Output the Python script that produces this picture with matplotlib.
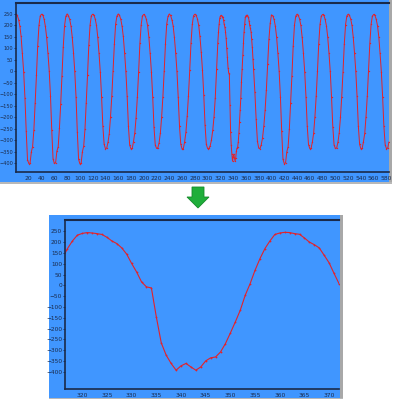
import numpy as np
import matplotlib
matplotlib.use("Agg")
import matplotlib.pyplot as plt
from matplotlib.patches import Rectangle, Polygon

# ---- data ----
# top chart, x = 0..314 step 2
before_y = [
    250, 244, 226, 198, 152, 78, -2, -115, -262, -385, -402, -400, -352, -328, -255, -138, -18, 112, 202, 242,
    249, 245, 228, 196, 148, 80, 2, -108, -258, -382, -401, -399, -348, -330, -248, -142, -22, 108, 198, 240,
    250, 243, 227, 199, 151, 82, 0, -112, -265, -384, -403, -400, -350, -326, -252, -136, -16, 114, 203, 243,
    249, 244, 229, 201, 149, 78, -4, -112, -240, -318, -337, -335, -310, -272, -198, -108, 2, 118, 206, 241,
    250, 245, 227, 198, 152, 81, 1, -108, -238, -322, -338, -336, -306, -268, -202, -112, -2, 122, 204, 242,
    248, 243, 228, 200, 150, 79, -2, -110, -242, -320, -336, -334, -312, -270, -200, -110, 0, 120, 207, 240,
    250, 244, 226, 199, 148, 80, 0, -114, -239, -319, -338, -337, -308, -266, -196, -106, 4, 124, 205, 243,
    249, 245, 229, 201, 152, 84, 4, -104, -236, -318, -337, -336, -325, -300, -258, -200, -115, 8,
]
# zoomed section, x = 316..372 step 1 (shown in both charts)
zoom_y = [
    125, 170, 205, 232, 240, 244, 242, 239, 235, 222, 205, 193, 173, 144, 101, 62, 16, -7, -12, -146,
    -266, -323, -361, -392, -372, -361, -377, -392, -377, -349, -335, -331, -308, -269, -220, -169, -115,
    -46, 8, 70, 124, 170, 205, 235, 242, 245, 244, 239, 236, 219, 200, 188, 173, 139, 104, 55, 8,
]
# top chart, x = 374..584 step 2
after_y = [
    -90, -210, -305, -335, -337, -320, -290, -240, -170, -80, 30, 140, 210,
    246, 243, 227, 198, 150, 80, 0, -112, -262, -383, -402, -400, -351, -329, -250, -139, -19, 111, 201, 241,
    249, 244, 228, 200, 150, 79, -1, -110, -240, -320, -337, -335, -309, -270, -199, -109, 1, 121, 205, 241,
    248, 244, 227, 199, 151, 81, 0, -111, -241, -321, -336, -335, -310, -269, -201, -110, -1, 119, 204, 242,
    249, 245, 228, 201, 149, 80, 1, -109, -239, -319, -338, -336, -307, -271, -198, -108, 3, 122, 206, 241,
    248, 244, 227, 199, 151, 79, -1, -111, -240, -320, -337, -335, -308,
]
before_x = np.arange(0, 315, 2)
zoom_x = np.arange(316, 373)
after_x = np.arange(374, 585, 2)

top_xticks = list(range(20, 581, 20))
zoom_xticks = list(range(320, 371, 5))
yticks = list(range(-400, 251, 50))

W, H = 400, 399
BLUE = '#4096ff'
RED = '#e3222a'
DARK = '#1a2a4a'


def frac(x0, y0, x1, y1):
    # pixel box (top-left origin) -> figure fraction rect
    return [x0 / W, 1 - y1 / H, (x1 - x0) / W, (y1 - y0) / H]


fig = plt.figure(figsize=(W / 100, H / 100), dpi=100)
fig.patch.set_facecolor('white')

# panel backgrounds and borders
for (x0, y0, x1, y1) in [(0, 0, 389, 182), (49, 215, 340, 398)]:
    r = frac(x0, y0, x1, y1)
    fig.add_artist(Rectangle((r[0], r[1]), r[2], r[3], transform=fig.transFigure,
                             facecolor=BLUE, edgecolor='none', zorder=0))
    r = frac(x1, y0, x1 + 3, y1 + 2)
    fig.add_artist(Rectangle((r[0], r[1]), r[2], r[3], transform=fig.transFigure,
                             facecolor='#a8a8a8', edgecolor='none', zorder=0))
    r = frac(x0, y1, x1 + 3, y1 + 2)
    fig.add_artist(Rectangle((r[0], r[1]), r[2], r[3], transform=fig.transFigure,
                             facecolor='#b8b8b8', edgecolor='none', zorder=0))

# green arrow
cx = 198
pts = [(cx - 6, 187), (cx + 6, 187), (cx + 6, 197), (cx + 11, 197), (cx, 208),
       (cx - 11, 197), (cx - 6, 197)]
pts = [(x / W, 1 - y / H) for x, y in pts]
fig.add_artist(Polygon(pts, closed=True, transform=fig.transFigure,
                       facecolor='#1fae3a', edgecolor='#158a2a', linewidth=0.6))


def style(ax, xticks, ylim, xlim, ysize):
    ax.set_facecolor(BLUE)
    ax.set_xlim(*xlim)
    ax.set_ylim(*ylim)
    ax.set_xticks(xticks)
    ax.set_yticks(yticks)
    ax.tick_params(axis='y', labelsize=ysize, length=1.5, width=0.6, pad=0.5,
                   colors=DARK, direction='out')
    ax.tick_params(axis='x', labelsize=4.3, length=0, pad=3, colors=DARK)
    ax.spines['right'].set_visible(False)
    for s in ['left', 'top', 'bottom']:
        ax.spines[s].set_color(DARK)
    ax.spines['left'].set_linewidth(1.2)
    ax.spines['top'].set_linewidth(1.5)
    ax.spines['bottom'].set_linewidth(1.2)


ax1 = fig.add_axes(frac(16, 3, 389, 172))
style(ax1, top_xticks, (-439, 298), (0, 584), 3.6)
top_x = np.concatenate([before_x, zoom_x, after_x])
top_y = np.concatenate([before_y, zoom_y, after_y])
ax1.plot(top_x, top_y, color=RED, linewidth=0.7, marker='o', markersize=1.0,
         markeredgewidth=0)

ax2 = fig.add_axes(frac(65, 220, 339, 389))
style(ax2, zoom_xticks, (-479, 302), (316.5, 372), 4.2)
ax2.plot(zoom_x, zoom_y, color=RED, linewidth=0.8, marker='o', markersize=1.3,
         markeredgewidth=0)

fig.savefig('out.png', dpi=100)
